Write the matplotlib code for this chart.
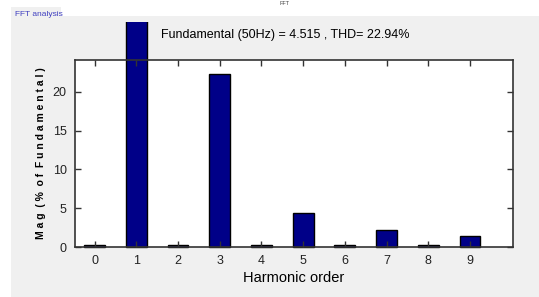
import matplotlib
matplotlib.use('Agg')
import matplotlib.pyplot as plt
import numpy as np
from matplotlib.transforms import Bbox, TransformedBbox
from matplotlib.patches import Rectangle

# harmonic spectrum, % of fundamental
harmonics = [0, 1, 2, 3, 4, 5, 6, 7, 8, 9]
mag = [0.25, 100, 0.25, 22.35, 0.25, 4.43, 0.25, 2.24, 0.25, 1.38]
yticks = [0, 5, 10, 15, 20]
title = 'Fundamental (50Hz) = 4.515 , THD= 22.94%'

plt.rcParams['font.family'] = ['Liberation Sans', 'DejaVu Sans']

W, H = 539, 297
fig = plt.figure(figsize=(W / 100, H / 100), dpi=100)
fig.patch.set_facecolor('white')

# grey panel behind everything
fig.patches.append(Rectangle((11 / W, 0), 1 - 11 / W, 1 - 16 / H,
                             transform=fig.transFigure, facecolor='#f0f0f0',
                             edgecolor='none', zorder=-10))
fig.patches.append(Rectangle((11 / W, 1 - 21 / H), 50 / W, 14 / H,
                             transform=fig.transFigure, facecolor='#f0f0f0',
                             edgecolor='none', zorder=-10))
fig.text(15 / W, 1 - 14 / H, 'FFT analysis', color='#4040c0', fontsize=6,
         va='center', ha='left')
fig.text(285 / W, 1 - 1 / H, 'FFT', color='#444444', fontsize=4, va='top', ha='center')

ax = fig.add_axes([75 / W, 1 - 247 / H, (513 - 75) / W, (247 - 60) / H])
ax.set_facecolor('white')

bars = ax.bar(harmonics, mag, width=0.5, color='#000088', edgecolor='black',
              linewidth=1)
clip = TransformedBbox(Bbox([[0, 0], [1, 1 - 21.5 / H]]), fig.transFigure)
for b in bars:
    b.set_clip_on(True)
    b.set_clip_box(clip)

ax.set_xlim(-0.47, 10.03)
ax.set_ylim(0, 24.1)
ax.set_xticks(harmonics)
ax.set_yticks(yticks)
ax.tick_params(direction='in', top=True, right=True, length=4, width=1,
               labelsize=9, colors='#333333', labelcolor='#222222', pad=6)
for s in ax.spines.values():
    s.set_color('#333333')
    s.set_linewidth(1.2)

ax.set_xlabel('Harmonic order', fontsize=10.5, labelpad=3)
ax.set_ylabel('M a g  ( %  o f  F u n d a m e n t a l )', fontsize=7.5,
              fontweight='bold', labelpad=5)
fig.text(285 / W, 1 - 35 / H, title, fontsize=9, ha='center', va='center')

fig.savefig('out.png', dpi=100, facecolor=fig.get_facecolor())
